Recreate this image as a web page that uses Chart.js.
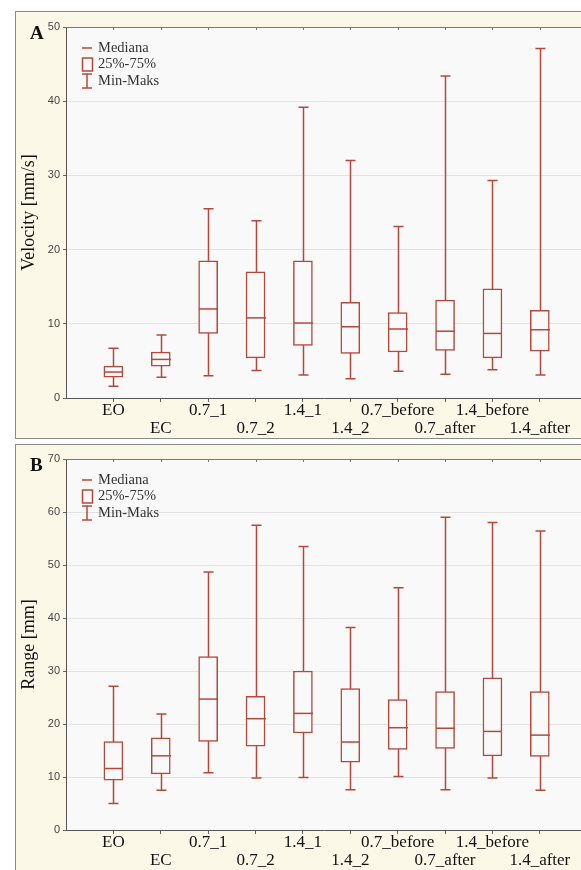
<!DOCTYPE html>
<html>
<head>
<meta charset="utf-8">
<script src="https://cdn.jsdelivr.net/npm/chart.js@4.4.1/dist/chart.umd.min.js"></script>
<style>
  html, body { margin: 0; padding: 0; background: #fff; overflow: hidden; }
  body { width: 581px; height: 870px; position: relative; }
  .panel { position: absolute; left: 15px; width: 600px; background: #fcf8e7; border: 1px solid #8a8a8a; box-sizing: border-box; }
  .panel canvas { position: absolute; left: 0; top: 0; }
</style>
</head>
<body>
<div class="panel" style="top:11px;height:428px"><canvas id="chartA" width="566" height="427"></canvas></div>
<div class="panel" style="top:444px;height:440px"><canvas id="chartB" width="566" height="438"></canvas></div>
<script>
'use strict';

var categories = ['EO', 'EC', '0.7_1', '0.7_2', '1.4_1', '1.4_2', '0.7_before', '0.7_after', '1.4_before', '1.4_after'];

// panel A - velocity [mm/s]
var velMin = [1.6, 2.8, 3.0, 3.7, 3.1, 2.6, 3.6, 3.2, 3.8, 3.1];
var velQ1  = [2.8, 4.3, 8.7, 5.4, 7.1, 6.0, 6.2, 6.4, 5.4, 6.3];
var velMed = [3.5, 5.2, 12.0, 10.8, 10.1, 9.6, 9.3, 9.0, 8.7, 9.2];
var velQ3  = [4.3, 6.2, 18.5, 17.0, 18.5, 12.9, 11.5, 13.2, 14.7, 11.8];
var velMax = [6.7, 8.5, 25.5, 23.9, 39.2, 32.0, 23.1, 43.4, 29.3, 47.1];

// panel B - range [mm]
var rngMin = [5.0, 7.5, 10.8, 9.8, 9.9, 7.6, 10.1, 7.6, 9.8, 7.5];
var rngQ1  = [9.4, 10.6, 16.7, 15.8, 18.3, 12.8, 15.2, 15.4, 14.0, 13.9];
var rngMed = [11.6, 14.0, 24.7, 21.0, 22.0, 16.6, 19.3, 19.2, 18.6, 17.9];
var rngQ3  = [16.7, 17.4, 32.7, 25.2, 30.0, 26.7, 24.6, 26.1, 28.7, 26.1];
var rngMax = [27.1, 21.9, 48.7, 57.5, 53.5, 38.2, 45.7, 59.0, 58.0, 56.4];

var legendItems = ['Mediana', '25%-75%', 'Min-Maks'];

var RED = '#b4493b';
var PLOT_BG = '#f9f9f9';
var SERIF = "'Liberation Serif', 'Times New Roman', serif";
var SANS = "'Liberation Sans', Arial, sans-serif";

function makeChart(id, opts) {
   var stats = opts.stats;
   var boxData = categories.map(function (c, i) {
      return { x: i + 1, y: [stats.q1[i], stats.q3[i]] };
   });

   var boxPlugin = {
      id: 'boxplot',
      beforeDraw: function (chart) {
         var a = chart.chartArea, ctx = chart.ctx;
         ctx.save();
         ctx.fillStyle = PLOT_BG;
         ctx.fillRect(a.left, a.top, a.right - a.left, a.bottom - a.top);
         ctx.restore();
      },
      beforeDatasetsDraw: function (chart) {
         // whiskers behind the boxes
         var xs = chart.scales.x, ys = chart.scales.y, ctx = chart.ctx;
         ctx.save();
         ctx.strokeStyle = RED;
         ctx.lineWidth = 1.5;
         for (var i = 0; i < categories.length; i++) {
            var x = Math.round(xs.getPixelForValue(i + 1)) + 0.5;
            var yLo = ys.getPixelForValue(stats.min[i]);
            var yHi = ys.getPixelForValue(stats.max[i]);
            ctx.beginPath();
            ctx.moveTo(x, yLo); ctx.lineTo(x, yHi);
            ctx.moveTo(x - 5, yLo); ctx.lineTo(x + 5, yLo);
            ctx.moveTo(x - 5, yHi); ctx.lineTo(x + 5, yHi);
            ctx.stroke();
         }
         ctx.restore();
      },
      afterDatasetsDraw: function (chart) {
         var xs = chart.scales.x, ys = chart.scales.y, ctx = chart.ctx, a = chart.chartArea;
         ctx.save();
         ctx.strokeStyle = RED;
         ctx.lineWidth = 1.5;
         for (var i = 0; i < categories.length; i++) {
            var x = Math.round(xs.getPixelForValue(i + 1)) + 0.5;
            var ym = ys.getPixelForValue(stats.med[i]);
            ctx.beginPath();
            ctx.moveTo(x - 9.5, ym); ctx.lineTo(x + 9.5, ym);
            ctx.stroke();
         }
         // top frame line + small inward ticks
         ctx.strokeStyle = '#777';
         ctx.lineWidth = 1;
         ctx.beginPath();
         ctx.moveTo(a.left, a.top + 0.5); ctx.lineTo(a.right, a.top + 0.5);
         for (var k = 1; k <= categories.length; k++) {
            var tx = Math.round(xs.getPixelForValue(k)) + 0.5;
            ctx.moveTo(tx, a.top); ctx.lineTo(tx, a.top + 3);
         }
         ctx.stroke();

         // legend
         var lx = a.left + 16, t = a.top;
         ctx.strokeStyle = RED;
         ctx.lineWidth = 1.5;
         ctx.beginPath();
         ctx.moveTo(lx, t + 21); ctx.lineTo(lx + 10, t + 21);
         ctx.stroke();
         ctx.strokeRect(lx + 0.5, t + 31, 10, 13);
         ctx.beginPath();
         ctx.moveTo(lx, t + 47); ctx.lineTo(lx + 10, t + 47);
         ctx.moveTo(lx + 5, t + 47); ctx.lineTo(lx + 5, t + 61);
         ctx.moveTo(lx, t + 61); ctx.lineTo(lx + 10, t + 61);
         ctx.stroke();
         ctx.fillStyle = '#333';
         ctx.font = '14.5px ' + SERIF;
         ctx.textBaseline = 'middle';
         ctx.fillText(legendItems[0], lx + 16, t + 21);
         ctx.fillText(legendItems[1], lx + 16, t + 37);
         ctx.fillText(legendItems[2], lx + 16, t + 54);

         // panel letter
         ctx.fillStyle = '#111';
         ctx.font = 'bold 19px ' + SERIF;
         ctx.textBaseline = 'alphabetic';
         ctx.fillText(opts.letter, 14, t + 12);
         ctx.restore();
      }
   };

   return new Chart(document.getElementById(id), {
      type: 'bar',
      data: {
         datasets: [{
            data: boxData,
            backgroundColor: PLOT_BG,
            borderColor: RED,
            borderWidth: 1.5,
            borderSkipped: false,
            barThickness: 19,
            grouped: false
         }]
      },
      options: {
         responsive: false,
         animation: false,
         layout: { padding: { top: opts.top, right: 0, left: 0, bottom: 0 } },
         plugins: { legend: { display: false }, tooltip: { enabled: false } },
         scales: {
            x: {
               type: 'linear',
               offset: false,
               min: 0,
               max: 10.89,
               afterFit: function (s) { s.height = opts.xHeight; },
               afterBuildTicks: function (s) {
                  s.ticks = categories.map(function (c, i) { return { value: i + 1 }; });
               },
               grid: { offset: false, drawOnChartArea: false, drawTicks: true, tickLength: 4, tickColor: '#666' },
               border: { display: true, color: '#555', width: 1 },
               ticks: {
                  autoSkip: false,
                  maxRotation: 0,
                  padding: 0,
                  color: '#111',
                  font: { family: SERIF, size: 17, lineHeight: 1.06 },
                  callback: function (v) {
                     var i = Math.round(v) - 1;
                     if (i < 0 || i >= categories.length) return '';
                     return i % 2 === 0 ? categories[i] : ['', categories[i]];
                  }
               }
            },
            y: {
               min: 0,
               max: opts.yMax,
               afterFit: function (s) { s.width = 50; },
               grid: { color: '#e2e2e2', tickLength: 3, tickColor: '#666' },
               border: { display: true, color: '#555', width: 1 },
               ticks: {
                  stepSize: 10,
                  padding: 3,
                  color: '#444',
                  font: { family: SANS, size: 11 }
               },
               title: {
                  display: true,
                  text: opts.yTitle,
                  color: '#111',
                  padding: { top: 2, bottom: 1 },
                  font: { family: SERIF, size: 18 }
               }
            }
         }
      },
      plugins: [boxPlugin]
   });
}

makeChart('chartA', {
   letter: 'A', yTitle: 'Velocity [mm/s]', yMax: 50, top: 15, xHeight: 41,
   stats: { min: velMin, q1: velQ1, med: velMed, q3: velQ3, max: velMax }
});
makeChart('chartB', {
   letter: 'B', yTitle: 'Range [mm]', yMax: 70, top: 14, xHeight: 53,
   stats: { min: rngMin, q1: rngQ1, med: rngMed, q3: rngQ3, max: rngMax }
});
</script>
</body>
</html>
